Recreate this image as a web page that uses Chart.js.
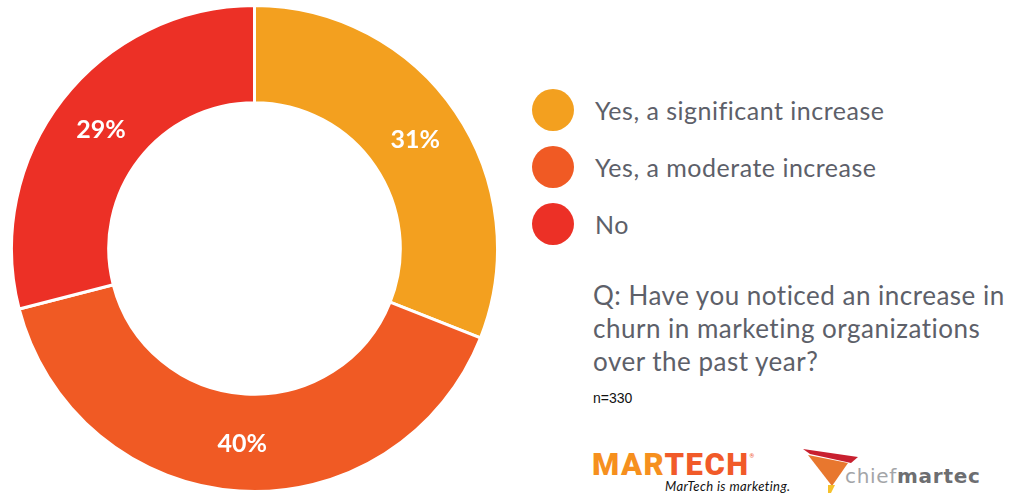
<!DOCTYPE html>
<html>
<head>
<meta charset="utf-8">
<script src="https://cdn.jsdelivr.net/npm/chart.js@4/dist/chart.umd.min.js"></script>
<style>
    html, body { margin: 0; padding: 0; background: #fff; }
    body { width: 1010px; height: 493px; position: relative; overflow: hidden; font-family: Lato, "Open Sans", sans-serif; }
    #chart-box { position: absolute; left: 10px; top: 4px; width: 489px; height: 489px; }
    #legend { position: absolute; left: 532px; top: 89px; }
    .legend-item { display: flex; align-items: center; height: 42px; margin-bottom: 15px; }
    .legend-dot { width: 42px; height: 42px; border-radius: 50%; margin-right: 21px; }
    .legend-text { font-size: 25px; letter-spacing: 0.5px; color: #5d6069; }
    #question { position: absolute; left: 593px; top: 279px; font-size: 26px; letter-spacing: 0.5px; line-height: 33px; color: #5d6069; }
    #sample { position: absolute; left: 593px; top: 390px; font-family: "Liberation Sans", Arial, sans-serif; font-size: 14px; color: #111; }
    #martech { position: absolute; left: 592px; top: 446px; font-family: Roboto, sans-serif; font-weight: 900; font-size: 31px; letter-spacing: 1.5px; }
    #martech .mar { color: #f6901e; }
    #martech .tech { color: #f15a29; }
    #martech sup { font-size: 6px; color: #f15a29; vertical-align: top; position: relative; top: 6px; }
    #tagline { position: absolute; left: 665px; top: 478px; font-style: italic; font-size: 13px; letter-spacing: 0.4px; color: #111; }
    #cm-mark { position: absolute; left: 802px; top: 448px; }
    #cm-text { position: absolute; left: 845px; top: 464px; font-family: "DejaVu Sans", sans-serif; font-size: 20px; letter-spacing: 0.7px; }
    #cm-text .chief { color: #a3a5a8; }
    #cm-text .martec { color: #6d6e71; font-weight: bold; }
</style>
</head>
<body>
<div id="chart-box"><canvas id="churn-chart"></canvas></div>
<div id="legend"></div>
<div id="question">Q: Have you noticed an increase in<br>churn in marketing organizations<br>over the past year?</div>
<div id="sample">n=330</div>

<div id="martech"><span class="mar">MAR</span><span class="tech">TECH</span><sup>®</sup></div>
<div id="tagline">MarTech is marketing.</div>
<svg id="cm-mark" width="58" height="46" viewBox="0 0 58 46">
    <polygon points="1,1 56,9 49,15 8,6" fill="#c8202f"/>
    <polygon points="6,7 46,15 30,38" fill="#e8772e"/>
    <polygon points="26,37 33,37 29,45 26,45" fill="#f6c12c"/>
</svg>
<div id="cm-text"><span class="chief">chief</span><span class="martec">martec</span></div>

<script>
const answers = ['Yes, a significant increase', 'Yes, a moderate increase', 'No']
const shares  = [31, 40, 29]
const colors  = ['#f3a01f', '#f05a24', '#ec3026']

// legend built from the same arrays as the chart
const legend = document.getElementById('legend')
answers.forEach((label, i) => {
    const item = document.createElement('div')
    item.className = 'legend-item'
    item.innerHTML = `<div class="legend-dot" style="background:${colors[i]}"></div>
        <div class="legend-text">${label}</div>`
    legend.appendChild(item)
})

// white percentage labels in the middle of each ring segment
const sliceLabels = {
    id: 'sliceLabels',
    afterDatasetsDraw(chart) {
        const ctx = chart.ctx
        const meta = chart.getDatasetMeta(0)
        ctx.save()
        ctx.fillStyle = '#fff'
        ctx.font = 'bold 25px Lato'
        ctx.textAlign = 'center'
        ctx.textBaseline = 'middle'
        meta.data.forEach((arc, i) => {
            const pos = arc.tooltipPosition()
            ctx.fillText(`${shares[i]}%`, pos.x, pos.y + 1)
        })
        ctx.restore()
    }
}

document.fonts.load('bold 25px Lato').then(() => {
    new Chart(document.getElementById('churn-chart'), {
        type: 'doughnut',
        data: {
            labels: answers,
            datasets: [{
                data: shares,
                backgroundColor: colors,
                borderColor: '#fff',
                borderWidth: 3
            }]
        },
        options: {
            responsive: true,
            maintainAspectRatio: false,
            animation: false,
            cutout: '60%',
            plugins: {
                legend: { display: false },
                tooltip: { enabled: false }
            }
        },
        plugins: [sliceLabels]
    })
})
</script>
</body>
</html>
